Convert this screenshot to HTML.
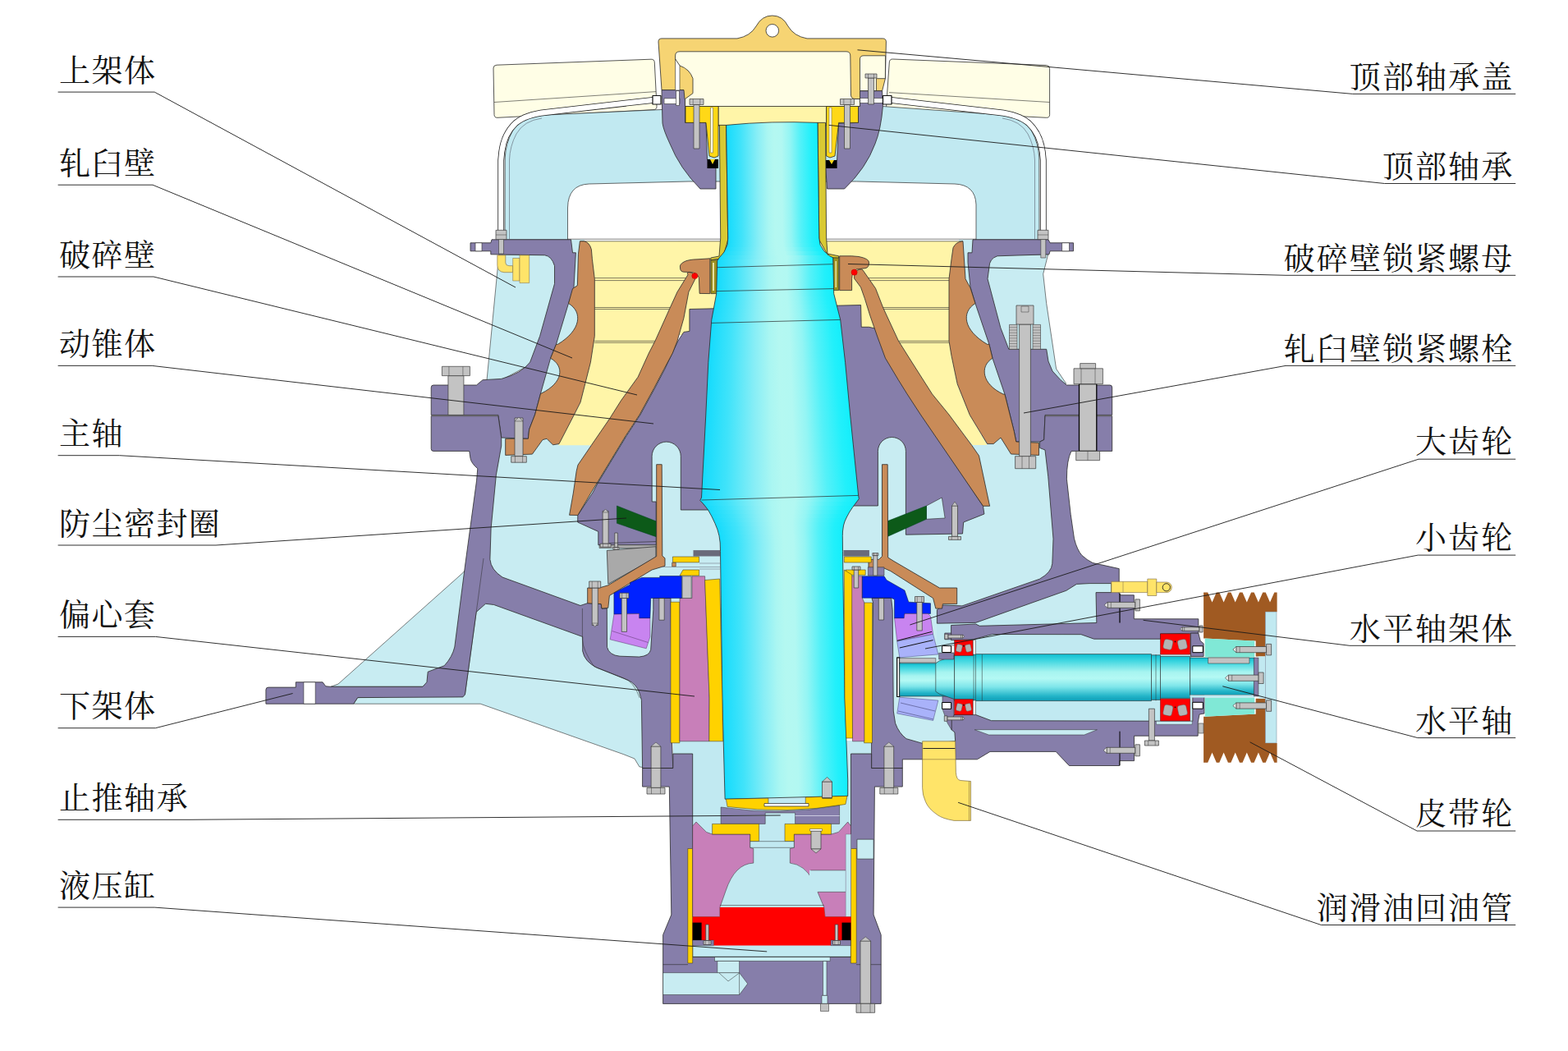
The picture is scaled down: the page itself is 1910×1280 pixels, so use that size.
<!DOCTYPE html><html><head><meta charset="utf-8"><title>cone crusher</title><style>html,body{margin:0;padding:0;background:#fff;font-family:"Liberation Sans",sans-serif}svg{display:block}</style></head><body><svg width="1910" height="1280" viewBox="0 0 1910 1280" stroke-linejoin="round"><defs><linearGradient id="sg" x1="0" x2="1" y1="0" y2="0"><stop offset="0" stop-color="#12dbfd"/><stop offset=".16" stop-color="#40e3fa"/><stop offset=".34" stop-color="#88eef6"/><stop offset=".45" stop-color="#aaf6f2"/><stop offset=".52" stop-color="#b4f8f1"/><stop offset=".6" stop-color="#b2f8f2"/><stop offset=".69" stop-color="#94f5f4"/><stop offset=".8" stop-color="#54f1f8"/><stop offset=".92" stop-color="#22f0fb"/><stop offset="1" stop-color="#12eefc"/></linearGradient><clipPath id="sc"><path d="M884.6,152.4 L886.7,290 L886,298 L882,307 L876,314 L873.7,317.7 L872.7,357.6 L866.8,389.4 L862.8,441.2 L859.8,505 L854.5,606 L852.8,609.5 L857,614 L862.5,621 L867,629 L871,637.5 L874,645 L876,652.5 L877.2,661 L877.5,671.3 L879.8,850 L883.1,973.2 L1032.7,969.4 L1032.7,950 L1029,850 L1026.5,671.3 L1026.3,652.5 L1026.5,647 L1027.5,640 L1029,635 L1031.3,630 L1034.5,624 L1038.8,617.5 L1043,612 L1046.3,607.5 L1045.6,603 L1035.6,505 L1029.6,441.2 L1023.7,389.4 L1015.7,357.6 L1014.7,313.7 L1011,312 L1004,306 L999,298 L997.8,290 L996,149.4 Q940,147 884.6,152.4Z"/></clipPath><linearGradient id="hg" x1="0" x2="0" y1="0" y2="1"><stop offset="0" stop-color="#0fbdd0"/><stop offset=".12" stop-color="#38d4df"/><stop offset=".38" stop-color="#a6f4f0"/><stop offset=".52" stop-color="#b4f9f4"/><stop offset=".7" stop-color="#7fe6ea"/><stop offset=".9" stop-color="#22b4c8"/><stop offset="1" stop-color="#0f9db6"/></linearGradient></defs><path d="M605,79.2 L793,72.2 Q797,72 797.3,76 L800,129.5 Q800.2,133.5 796,133.7 L606,143.3 Q602,143.5 602,139.5 L601,83 Q601,79.4 605,79.2Z" fill="#fffee6" stroke="#2a2a2a" stroke-width="0.8" /><path d="M602,124.5 L799,111.6" fill="none" stroke="#2a2a2a" stroke-width="0.6" /><path d="M1087.5,72 L1274.6,79.5 Q1278.6,79.7 1278.6,83.7 L1278.6,139.5 Q1278.6,143.5 1274.6,143.3 L1083.4,133.7 Q1079.4,133.5 1079.6,129.5 L1083.3,76 Q1083.5,71.8 1087.5,72Z" fill="#fffee6" stroke="#2a2a2a" stroke-width="0.8" /><path d="M1083,112.6 L1278.6,124.5" fill="none" stroke="#2a2a2a" stroke-width="0.6" /><path d="M806,133.5 L652,140.6 Q633,143 624,160 Q616,175 615.2,192 L615,292 L691.5,292 L691.5,253 Q692,225 717.5,224 L839,221 L1043.5,221 L1163,224 Q1188,225 1189,249 L1189,292 L1266,292 L1265.8,192 Q1265,175 1257,160 Q1248,143 1229,140.6 L1075,129.5 L940,125Z" fill="#c1e9f1" stroke="#2a2a2a" stroke-width="0.7" /><path d="M660,144 Q638,147 629,163 Q621,178 620.5,195 L620.5,291" fill="none" stroke="#445" stroke-width="0.5" /><path d="M1221,144 Q1243,147 1252,163 Q1260,178 1260.5,195 L1260.5,291" fill="none" stroke="#445" stroke-width="0.5" /><path d="M796,121.8 L665,136.8 Q640,139.5 628,150 Q614,163 611.2,185 L610.2,195 L610.2,282" fill="none" stroke="#222" stroke-width="7.8" /><path d="M796,121.8 L665,136.8 Q640,139.5 628,150 Q614,163 611.2,185 L610.2,195 L610.2,282" fill="none" stroke="#fff" stroke-width="6.2" /><path d="M1085,121.8 L1216,136.8 Q1241,139.5 1253,150 Q1267,163 1269.8,185 L1270.8,195 L1270.8,282" fill="none" stroke="#222" stroke-width="7.8" /><path d="M1085,121.8 L1216,136.8 Q1241,139.5 1253,150 Q1267,163 1269.8,185 L1270.8,195 L1270.8,282" fill="none" stroke="#fff" stroke-width="6.2" /><path d="M806,109.6 L834.5,109.6 L834.5,149.4 L860,149.4 L861.5,194 L872,205 L872,230 L853,230 Q828,205 816,175 Q808,158 807,150Z" fill="#867eaa" stroke="#2a2a2a" stroke-width="0.8" /><path d="M1074.6,110.6 L1047.5,110.6 L1047.5,129.5 L1045.5,129.5 L1045.5,149.4 L1021.6,150.4 L1019.6,195 L1005.7,205 L1007.6,230 L1028.6,230 Q1055,205 1066,175 Q1073,158 1075.4,129.5Z" fill="#867eaa" stroke="#2a2a2a" stroke-width="0.8" /><rect x="809" y="119.8" width="19" height="6.7" fill="#fff" stroke="#2a2a2a" stroke-width="0.6"/><rect x="823.5" y="110.6" width="4" height="17.9" fill="#fff" stroke="#2a2a2a" stroke-width="0.6"/><rect x="1047.5" y="119.5" width="27.9" height="6" fill="#fff" stroke="#2a2a2a" stroke-width="0.6"/><path d="M806,109.6 L802,51 Q802,46.9 806,46.9 L898,46.9 Q914,44 921,32 Q928,19 940.7,19 Q953.5,19 960,32 Q967,44 983,46.9 L1075.4,46.9 Q1079.4,46.9 1079.4,51 L1078.4,95.7 L1074.6,110.6 L1047.5,110.6 L1047.5,120.5 L1036.5,120.5 L834,120.5 L833,109.6Z" fill="#f6d473" stroke="#2a2a2a" stroke-width="0.8" /><circle cx="940.8" cy="37.3" r="7.8" fill="#fff" stroke="#2a2a2a" stroke-width="0.8"/><path d="M828,62.8 L1031,62.8 Q1035.8,62.8 1035.8,68 L1036.5,116 Q1037,120.5 1042,120.5 L1047.5,120.5 L1047.5,129.5 L834.5,129.5 L834.5,120.5 L844,113.6 L844,95.6 Q840,84 828,80 L822.6,72 L822.6,68 Q822.6,62.8 828,62.8Z" fill="#fffee6" stroke="#2a2a2a" stroke-width="0.8" /><path d="M822.6,72 L828,80 L828,110 L822.6,110Z" fill="#fff" stroke="#2a2a2a" stroke-width="0.6" /><path d="M1052,67.8 L1078.6,67.8 L1078.4,95.7 L1067.4,95.7 L1067.4,110.6 L1047.5,110.6 L1047.5,72 Q1047.5,67.8 1052,67.8Z" fill="#fffee6" stroke="#2a2a2a" stroke-width="0.8" /><rect x="875" y="129.5" width="131.6" height="23.5" fill="#fff5a8" stroke="#2a2a2a" stroke-width="0.7"/><path d="M835,129.5 L875,129.5 L875,190 L870,192 L864,190 L860,149.4 L835,149.4Z" fill="#ffd817" stroke="#2a2a2a" stroke-width="0.8" /><path d="M1045.5,129.5 L1006.6,129.5 L1006.6,190 L1011,192 L1017,190 L1021.6,149.4 L1045.5,149.4Z" fill="#ffd817" stroke="#2a2a2a" stroke-width="0.8" /><rect x="865.5" y="131" width="3" height="55" fill="#fffbe0" stroke="#555" stroke-width="0.5"/><rect x="1010" y="131" width="3" height="55" fill="#fffbe0" stroke="#555" stroke-width="0.5"/><rect x="861.5" y="194" width="13.5" height="11" fill="#000" stroke="#000" stroke-width="0"/><rect x="1005.7" y="195" width="13.9" height="10" fill="#000" stroke="#000" stroke-width="0"/><path d="M865,194 L868,200 L871,194Z" fill="#ffd817" stroke="none" stroke-width="0" /><path d="M1010,195 L1013,200 L1016,195Z" fill="#ffd817" stroke="none" stroke-width="0" /><rect x="845" y="127.5" width="7" height="53.5" fill="#c3c3c3" stroke="#3a3a3a" stroke-width="0.7"/><rect x="840" y="120.5" width="17" height="7" fill="#c3c3c3" stroke="#3a3a3a" stroke-width="0.7"/><path d="M844.2,120.5 L844.2,127.5" fill="none" stroke="#3a3a3a" stroke-width="0.5" /><path d="M852.8,120.5 L852.8,127.5" fill="none" stroke="#3a3a3a" stroke-width="0.5" /><rect x="1028.5" y="127.5" width="7" height="53.5" fill="#c3c3c3" stroke="#3a3a3a" stroke-width="0.7"/><rect x="1023.5" y="120.5" width="17" height="7" fill="#c3c3c3" stroke="#3a3a3a" stroke-width="0.7"/><path d="M1027.8,120.5 L1027.8,127.5" fill="none" stroke="#3a3a3a" stroke-width="0.5" /><path d="M1036.2,120.5 L1036.2,127.5" fill="none" stroke="#3a3a3a" stroke-width="0.5" /><rect x="1057.5" y="95" width="7" height="32" fill="#c3c3c3" stroke="#3a3a3a" stroke-width="0.7"/><rect x="1054" y="90" width="14" height="5" fill="#c3c3c3" stroke="#3a3a3a" stroke-width="0.7"/><path d="M1057.5,90 L1057.5,95" fill="none" stroke="#3a3a3a" stroke-width="0.5" /><path d="M1064.5,90 L1064.5,95" fill="none" stroke="#3a3a3a" stroke-width="0.5" /><rect x="795" y="116.5" width="10" height="10.5" fill="#fff" stroke="#111" stroke-width="1.2"/><rect x="1075.5" y="116.5" width="10.5" height="10.5" fill="#fff" stroke="#111" stroke-width="1.2"/><path d="M606,527 L600,578.3 L592,643.6 L588,690 L606,712 L706,748 L712,810 L1180,810 L1174,748 L1266,714 L1290,700 L1292,656 L1285,580.8 L1280,548 L1275,540 L1262,530Z" fill="#c8ecf2" stroke="none" stroke-width="0" /><path d="M403,836.3 L412,833 L563.9,697.6 L572,688 L565,836.3Z" fill="#c8ecf2" stroke="#2a2a2a" stroke-width="0.6" /><path d="M430.7,857.2 L435.7,849.6 L566.4,845.9 L580.2,745.3 L591.5,732 L712,771 L790,850 L790,936 L778.8,933.8 L773,924 L759.9,918.8 L585.2,857.2Z" fill="#c8ecf2" stroke="#2a2a2a" stroke-width="0.6" /><path d="M1186,757 L1296,715 L1310,707 L1327,706 L1356,706 L1356,724 L1338,724 L1338,761Z" fill="#c8ecf2" stroke="none" stroke-width="0" /><rect x="1141" y="755" width="311" height="128" fill="#c1e9f1" stroke="none" stroke-width="0"/><path d="M1086,800 L1165,800 L1165,909 L1086,909Z" fill="#c8ecf2" stroke="none" stroke-width="0" /><rect x="819.8" y="902" width="241.8" height="98" fill="#c1e9f1" stroke="none" stroke-width="0"/><rect x="843.7" y="1000" width="192.8" height="172" fill="#c1e9f1" stroke="none" stroke-width="0"/><path d="M607.8,310 L678,310 L678,348 L648,443 L612,462 L592.5,468Z" fill="#c8ecf2" stroke="#2a2a2a" stroke-width="0.6" /><path d="M1196,311 L1276.7,309.8 L1270.7,333.7 L1274.7,369.5 L1286.6,449.2 L1298.6,467 L1296,470 L1215,428Z" fill="#c8ecf2" stroke="#2a2a2a" stroke-width="0.6" /><path d="M694,291.8 L712,291.8 L712,400 L700,440 L688,480 L660,524 L645,524Z" fill="#c8ecf2" stroke="none" stroke-width="0" /><path d="M1186,291.8 L1168,291.8 L1168,400 L1180,440 L1192,480 L1222,526 L1237,526Z" fill="#c8ecf2" stroke="none" stroke-width="0" /><path d="M573,295.8 L597.8,295.8 L599,291.8 L695.5,291.8 L697.5,307.8 L701.4,307.8 L699,349.6 L692.5,369.5 L677.5,419.3 L670.6,436.3 L658.6,479 L651.6,505 L644.6,523 L643.4,534.3 L610.7,533 L606.9,505.4 L525.2,505.4 L525.2,472 Q525.2,469 528,469 L580.5,469 L588,462.7 L610.7,461.4 Q635,455 645.7,441 L657.6,409.4 L675.5,345.6 L675.5,323.7 Q672,312 663.6,310.8 L597.8,309.8 L597.8,305.8 L573,305.8Z" fill="#867eaa" stroke="#2a2a2a" stroke-width="0.8" /><rect x="579" y="295.8" width="8" height="10" fill="#fff" stroke="#2a2a2a" stroke-width="0.6"/><path d="M1185,291.8 L1277,291.8 L1279,295.8 L1307.5,295.8 L1307.5,305.8 L1279,305.8 L1278,309.8 L1214.9,311.8 Q1205,315 1204.9,325.7 L1203,339.6 L1218.9,399.4 L1228.8,425.3 L1274.7,425.3 L1277,440 L1282,452 L1291.9,462.7 L1299.4,469 L1352,469 Q1354.7,469 1354.7,472 L1354.7,505.4 L1273,505.4 L1271.7,535.6 L1266.7,538 L1237.8,538 L1235.3,525.5 L1224,480.3 L1209,436.3 L1204.9,419.3 L1188,369.5 L1182,349.6 L1179,319.7 L1179,307.8 L1184,307.8Z" fill="#867eaa" stroke="#2a2a2a" stroke-width="0.8" /><rect x="1293.6" y="295.8" width="8.9" height="10" fill="#fff" stroke="#2a2a2a" stroke-width="0.6"/><rect x="826" y="293.8" width="236" height="114.2" fill="#fff5a8" stroke="none" stroke-width="0"/><path d="M706,293.8 L1173,293.8 L1156,415 L1166,468 L1181,505 L1202.5,541.9 L1184.5,541.9 L1150,500 L1060,400 L1048,372 L1030,372 L1030,330 L852,330 L852,376 L840,376 L824,382 L812,415 L793,454 L765,505 L742,536 L720,542.3 L679.7,542.3 L706,493 L719,441 L724.3,409Z" fill="#fff5a8" stroke="none" stroke-width="0" /><path d="M691.5,291.2 L877,291.2" fill="none" stroke="#2a2a2a" stroke-width="0.6" /><path d="M1007,291.2 L1189,291.2" fill="none" stroke="#2a2a2a" stroke-width="0.6" /><path d="M707,293.8 L877,293.8" fill="none" stroke="#2a2a2a" stroke-width="0.6" /><path d="M1007,293.8 L1173,293.8" fill="none" stroke="#2a2a2a" stroke-width="0.6" /><path d="M724.3,338.6 L835,338.6" fill="none" stroke="#2a2a2a" stroke-width="0.6" /><path d="M1055,338.6 L1156,338.6" fill="none" stroke="#2a2a2a" stroke-width="0.6" /><path d="M724.3,341.6 L834,341.6" fill="none" stroke="#2a2a2a" stroke-width="0.6" /><path d="M1057,341.6 L1156,341.6" fill="none" stroke="#2a2a2a" stroke-width="0.6" /><path d="M724.3,374.5 L816,374.5" fill="none" stroke="#2a2a2a" stroke-width="0.6" /><path d="M1075.5,374.5 L1156,374.5" fill="none" stroke="#2a2a2a" stroke-width="0.6" /><path d="M724.3,376.5 L815,376.5" fill="none" stroke="#2a2a2a" stroke-width="0.6" /><path d="M1076.5,376.5 L1156,376.5" fill="none" stroke="#2a2a2a" stroke-width="0.6" /><path d="M724.3,415.3 L798.5,415.3" fill="none" stroke="#2a2a2a" stroke-width="0.6" /><path d="M1094.5,415.3 L1156,415.3" fill="none" stroke="#2a2a2a" stroke-width="0.6" /><path d="M724.3,417.3 L797.5,417.3" fill="none" stroke="#2a2a2a" stroke-width="0.6" /><path d="M1095.7,417.3 L1156,417.3" fill="none" stroke="#2a2a2a" stroke-width="0.6" /><path d="M706.4,293.8 L704.4,309.8 L703.4,347.6 L697.5,351.6 L692.5,369.5 C710,380 708,402 679.5,419.3 L677.5,419.3 L670.6,436.3 C688,446 686,466 659.6,479 L658.6,479 L651.6,505 L644.6,523 L643.4,534.3 L615.7,534.3 L615.7,554.4 L648.4,553.1 L661,535.6 L666,534.3 L673.5,541.8 L681,540.6 L699.4,505 L707,490 L719.4,441.2 L724.3,409.4 L724.3,339.6 L721.4,315.7 L720.4,303.8 Q718,295 711.4,293.8Z" fill="#c98b58" stroke="#2a2a2a" stroke-width="0.8" /><path d="M1173,293.8 L1176,339.6 L1182,350.6 L1188,369.5 C1171,380 1173,402 1202.5,419.3 L1204.9,419.3 L1209,436.3 C1193,446 1196,468 1222,480 L1224,480.3 L1235.3,525.5 L1237.8,538 L1265.5,539.3 L1265.5,554.4 L1231.5,553 L1219,533 L1210.2,540.6 L1202.6,540.6 L1181.3,505.4 L1166.2,467.7 L1159,433.3 L1156,415.3 L1156,339.6 L1159,315.7 L1161,301.8 Q1164,295 1172,293.8Z" fill="#c98b58" stroke="#2a2a2a" stroke-width="0.8" /><path d="M839.9,376.5 L1048.6,371.5 L1049.2,398.3 L1058.5,398.3 L1066,400 L1080.4,436.1 L1096.3,462.7 L1107,479.9 L1123.4,505 L1197.5,616.3 L1198.9,626 L1173.7,636 L1172.5,650 L1103.4,651.2 L1103.4,549.5 A17,17 0 0 0 1069.4,549.5 L1069.4,616 L1040,616 L860,621 L829.3,621 L829.3,555.7 A17.6,17.6 0 0 0 794.1,555.7 L794.2,611 L799.2,611 L799.2,663.7 L728.8,663.7 L728.8,647.4 L703.7,636 L703.8,627.5 L722,600 L728.5,587.8 L763.3,530.5 L780,505 L798,472 L810,449 L826,415 L832.9,404.4 L839.9,403.4Z" fill="#867eaa" stroke="#2a2a2a" stroke-width="0.8" /><path d="M1128.5,616 L1147.3,606 L1151.1,631 L1128.5,632.3Z" fill="#c8ecf2" stroke="#2a2a2a" stroke-width="0.6" /><path d="M840,331.5 Q836,331.5 837.9,334.7 L825,355.6 L815,377.5 L798,415.3 L790.4,430 L777.1,459.2 L756.5,487.8 L742.5,510 L720,542.8 L704,566.2 L702.2,573.7 L698.4,600 L693.6,627.3 L703.8,627.5 L720,600 L727.5,587.8 L762.3,530.5 L779.1,505 L796.7,472.7 L809,449.2 L819.3,430 L825,415.3 L832.9,387.5 L838.9,355.6 L846.9,339.6 Q846,332 840,331.5Z" fill="#c98b58" stroke="#2a2a2a" stroke-width="0.8" /><path d="M1046.6,328.2 Q1050,327 1051.2,329.2 L1066.5,351.2 L1075.8,375 L1094.3,414.9 L1107.6,436.1 L1135.5,479.9 L1156,505 L1183.8,542.5 L1192.5,555 L1205.6,616.3 L1197.5,616.3 L1121.4,505 L1105,479.9 L1094.3,462.7 L1078.4,436.1 L1069.1,410.9 L1059.8,384.3 L1053.2,363.1 L1048.5,349.8 L1040.6,339.2 Q1040,330 1046.6,328.2Z" fill="#c98b58" stroke="#2a2a2a" stroke-width="0.8" /><path d="M864.8,314.8 L850,315.8 Q838,316 833,319 Q827.5,322 828.5,326 Q828.5,331 833,331.2 L841,331.5 Q849,332 851.4,338.1 L852.1,357.4 L864.8,357.6Z" fill="#c98b58" stroke="#2a2a2a" stroke-width="0.8" /><path d="M1022.7,311.8 L1037.6,311.8 L1046,312.5 Q1059,315 1058.5,320 Q1058.5,326 1054,326.7 L1043,328 Q1038,331 1037.6,339.6 L1037.6,353.6 L1022.7,353.6Z" fill="#c98b58" stroke="#2a2a2a" stroke-width="0.8" /><circle cx="846.3" cy="336" r="3.6" fill="#ff0000" stroke="#a00" stroke-width="0.4"/><circle cx="1040.6" cy="331.7" r="3.6" fill="#ff0000" stroke="#a00" stroke-width="0.4"/><rect x="865.8" y="316.7" width="8.9" height="40.9" fill="#9b9020" stroke="#2a2a2a" stroke-width="0.7"/><rect x="1014.7" y="313" width="7" height="40.6" fill="#9b9020" stroke="#2a2a2a" stroke-width="0.7"/><rect x="868" y="320" width="2" height="34" fill="#e8e2a0" stroke="none" stroke-width="0"/><rect x="1017.5" y="318" width="1.5" height="32" fill="#e8e2a0" stroke="none" stroke-width="0"/><path d="M875,152.4 L884.6,152.4 L886.7,292 L880.5,314.5 L865.8,316.7 L865.8,314 L876,312 L877.7,290 L876.4,153Z" fill="#d9c933" stroke="#2a2a2a" stroke-width="0.8" /><path d="M996,149.4 L1005.5,149.4 L1006.6,290 L1008,309 L1021.7,311.8 L1021.7,314 L1010,313.7 L997.8,292Z" fill="#d9c933" stroke="#2a2a2a" stroke-width="0.8" /><path d="M606.9,506.7 L610.7,533 L610.7,543 L604.4,578.3 L598.1,643.6 L596.9,681.3 Q598,694 612,703 L707,737.5 L716,734.5 L732.2,735.6 L733,741.1 L739.3,741 L739.5,788.2 Q742,798 755,799.2 L778.5,800 Q791,799 792.7,791.3 L795.8,742.7 L795.8,728.5 L817,728.5 L818.5,904.8 L819.8,935.5 L782.6,935.5 L781.4,852.6 L778.8,843.4 Q775,833 764.9,828.3 L727.2,813.2 Q712,806 709.7,793 L709.7,775.5 L601.6,736.5 L591.5,735.3 L580.2,745.3 L566.4,845.9 L563.9,848.9 L435.7,849.6 L430.7,857.2 L323.9,857.2 L323.9,840 Q323.9,837.1 327,837.1 L360.3,837.1 L360.3,830.8 L393,830.8 L396.8,835.8 L403,836.3 L514.9,836.3 L519.9,830.8 L521.2,818.2 L541.3,810.7 Q551,800 553.8,788 L566.4,690 L580.5,585.8 L581.8,570.7 Q574,564 573,558.2 L571.7,549.4 L528,549.4 Q525.2,549.4 525.2,546.5 L525.2,506.7Z" fill="#867eaa" stroke="#2a2a2a" stroke-width="0.8" /><rect x="369.9" y="830.8" width="14.3" height="26.4" fill="#fff" stroke="#2a2a2a" stroke-width="0.6"/><path d="M589,680 L580.2,745.3" fill="none" stroke="#2a2a2a" stroke-width="0.5" /><path d="M709.4,741 L709.4,778.8 Q710,792 723.6,811.8 L759.7,825.9 Q772,830 779.3,850" fill="none" stroke="#2a2a2a" stroke-width="0.5" /><path d="M1273,506.7 L1354.7,506.7 L1354.7,549.4 L1305,549.4 Q1299.4,560 1299.4,583.3 L1304.2,626.4 L1308.5,655.9 Q1312,670 1318,676.5 Q1324,682 1331,685.5 L1363.2,692.6 L1363.2,722.4 L1364.8,724.8 L1381.3,724.8 L1381.3,753.8 L1459.8,753.8 L1459.8,771.1 L1413.5,771.9 L1413.5,778.2 L1332.6,778.2 L1316.9,772.7 L1208.9,772.5 L1185.3,778.8 L1158.6,779.6 L1158.6,761.5 L1188.5,760 L1193.2,762.3 L1335.8,758.5 L1335,721.6 L1353.8,721.6 L1353.8,710.6 L1327.1,710.6 L1311.4,711.4 L1298.8,719.3 L1188.5,758.4 L1141.4,759.2 L1141.4,742.7 L1148.8,737 L1172,737.9 L1266.3,705.2 Q1281,697 1281.8,686.3 L1283,656.2 L1276.8,580.8 L1273,548 L1266.7,545.6 L1266.7,538 L1271.7,535.6Z" fill="#867eaa" stroke="#2a2a2a" stroke-width="0.8" /><path d="M1364,722.4 L1364,758.5" fill="none" stroke="#000" stroke-width="1.2" /><path d="M1450.4,771.1 L1459.8,771.1 L1462.2,780.5 L1466.1,783.7 L1466.1,799.4 L1450.4,799.4Z" fill="#867eaa" stroke="#2a2a2a" stroke-width="0.8" /><rect x="1150.8" y="771" width="7.8" height="7.8" fill="#867eaa" stroke="#2a2a2a" stroke-width="0.6"/><path d="M1062,728.5 L1085.6,728.5 L1087.2,742.7 L1088.3,866 L1090.6,880.8 Q1095,893 1104,899.7 L1126,906 L1163.7,902.8 L1162.9,891.8 L1159,888.7 L1159,877.7 L1162,870.6 L1188.8,870.6 L1207.6,877.7 L1452.8,878.3 L1452.8,846.7 L1467,846.7 L1467,869 L1461,870 L1459.2,880 L1459.2,896.2 L1381.5,896.2 L1381.5,926.6 L1363.6,926.6 L1363.6,932.5 L1302.4,932.5 L1286.2,915.4 L1206,915.4 L1190.4,924.8 L1099.3,924.8 L1099.3,935.5 L1061.6,935.5 L1061.6,904.8 L1063.6,734Z" fill="#867eaa" stroke="#2a2a2a" stroke-width="0.8" /><path d="M1187.2,888.7 L1336.4,888.7 L1320.7,895 L1204.5,895Z" fill="#c8ecf2" stroke="#2a2a2a" stroke-width="0.5" /><path d="M1148,846.3 L1162,846.3 L1162,871 L1159,877.7 L1159,888.7 L1154.2,880.8 L1148,863.6Z" fill="#867eaa" stroke="#2a2a2a" stroke-width="0.5" /><rect x="1408.4" y="878.3" width="43.8" height="4" fill="#c8ecf2" stroke="#2a2a2a" stroke-width="0.4"/><path d="M1364,890.7 L1364,932.3" fill="none" stroke="#000" stroke-width="1.0" /><g clip-path="url(#sc)"><rect x="883.6" y="146" width="113.4" height="5.6" fill="url(#sg)"/><rect x="883.6" y="151" width="113.4" height="5.6" fill="url(#sg)"/><rect x="883.7" y="156" width="113.4" height="5.6" fill="url(#sg)"/><rect x="883.8" y="161" width="113.4" height="5.6" fill="url(#sg)"/><rect x="883.8" y="166" width="113.4" height="5.6" fill="url(#sg)"/><rect x="883.9" y="171" width="113.4" height="5.6" fill="url(#sg)"/><rect x="884" y="176" width="113.4" height="5.6" fill="url(#sg)"/><rect x="884.1" y="181" width="113.4" height="5.6" fill="url(#sg)"/><rect x="884.2" y="186" width="113.3" height="5.6" fill="url(#sg)"/><rect x="884.2" y="191" width="113.3" height="5.6" fill="url(#sg)"/><rect x="884.3" y="196" width="113.3" height="5.6" fill="url(#sg)"/><rect x="884.4" y="201" width="113.3" height="5.6" fill="url(#sg)"/><rect x="884.5" y="206" width="113.3" height="5.6" fill="url(#sg)"/><rect x="884.5" y="211" width="113.3" height="5.6" fill="url(#sg)"/><rect x="884.6" y="216" width="113.3" height="5.6" fill="url(#sg)"/><rect x="884.7" y="221" width="113.3" height="5.6" fill="url(#sg)"/><rect x="884.8" y="226" width="113.3" height="5.6" fill="url(#sg)"/><rect x="884.8" y="231" width="113.2" height="5.6" fill="url(#sg)"/><rect x="884.9" y="236" width="113.2" height="5.6" fill="url(#sg)"/><rect x="885" y="241" width="113.2" height="5.6" fill="url(#sg)"/><rect x="885.1" y="246" width="113.2" height="5.6" fill="url(#sg)"/><rect x="885.1" y="251" width="113.2" height="5.6" fill="url(#sg)"/><rect x="885.2" y="256" width="113.2" height="5.6" fill="url(#sg)"/><rect x="885.3" y="261" width="113.2" height="5.6" fill="url(#sg)"/><rect x="885.4" y="266" width="113.2" height="5.6" fill="url(#sg)"/><rect x="885.4" y="271" width="113.1" height="5.6" fill="url(#sg)"/><rect x="885.5" y="276" width="113.1" height="5.6" fill="url(#sg)"/><rect x="885.6" y="281" width="113.1" height="5.6" fill="url(#sg)"/><rect x="885.7" y="286" width="113.1" height="5.6" fill="url(#sg)"/><rect x="885.4" y="291" width="113.9" height="5.6" fill="url(#sg)"/><rect x="884.8" y="296" width="115.5" height="5.6" fill="url(#sg)"/><rect x="882.6" y="301" width="120.9" height="5.6" fill="url(#sg)"/><rect x="879.7" y="306" width="128.2" height="5.6" fill="url(#sg)"/><rect x="875.4" y="311" width="139.8" height="5.6" fill="url(#sg)"/><rect x="872.7" y="316" width="143.1" height="5.6" fill="url(#sg)"/><rect x="872.6" y="321" width="143.4" height="5.6" fill="url(#sg)"/><rect x="872.4" y="326" width="143.6" height="5.6" fill="url(#sg)"/><rect x="872.3" y="331" width="143.8" height="5.6" fill="url(#sg)"/><rect x="872.2" y="336" width="144.1" height="5.6" fill="url(#sg)"/><rect x="872.1" y="341" width="144.3" height="5.6" fill="url(#sg)"/><rect x="871.9" y="346" width="144.6" height="5.6" fill="url(#sg)"/><rect x="871.8" y="351" width="144.8" height="5.6" fill="url(#sg)"/><rect x="871.5" y="356" width="145.4" height="5.6" fill="url(#sg)"/><rect x="870.6" y="361" width="147.6" height="5.6" fill="url(#sg)"/><rect x="869.7" y="366" width="149.8" height="5.6" fill="url(#sg)"/><rect x="868.8" y="371" width="152" height="5.6" fill="url(#sg)"/><rect x="867.8" y="376" width="154.1" height="5.6" fill="url(#sg)"/><rect x="866.9" y="381" width="156.3" height="5.6" fill="url(#sg)"/><rect x="866" y="386" width="158.5" height="5.6" fill="url(#sg)"/><rect x="865.5" y="391" width="159.7" height="5.6" fill="url(#sg)"/><rect x="865.1" y="396" width="160.6" height="5.6" fill="url(#sg)"/><rect x="864.7" y="401" width="161.6" height="5.6" fill="url(#sg)"/><rect x="864.3" y="406" width="162.6" height="5.6" fill="url(#sg)"/><rect x="863.9" y="411" width="163.5" height="5.6" fill="url(#sg)"/><rect x="863.6" y="416" width="164.5" height="5.6" fill="url(#sg)"/><rect x="863.2" y="421" width="165.4" height="5.6" fill="url(#sg)"/><rect x="862.8" y="426" width="166.4" height="5.6" fill="url(#sg)"/><rect x="862.4" y="431" width="167.3" height="5.6" fill="url(#sg)"/><rect x="862" y="436" width="168.3" height="5.6" fill="url(#sg)"/><rect x="861.7" y="441" width="169.1" height="5.6" fill="url(#sg)"/><rect x="861.5" y="446" width="169.8" height="5.6" fill="url(#sg)"/><rect x="861.2" y="451" width="170.5" height="5.6" fill="url(#sg)"/><rect x="861" y="456" width="171.2" height="5.6" fill="url(#sg)"/><rect x="860.8" y="461" width="171.9" height="5.6" fill="url(#sg)"/><rect x="860.5" y="466" width="172.7" height="5.6" fill="url(#sg)"/><rect x="860.3" y="471" width="173.4" height="5.6" fill="url(#sg)"/><rect x="860" y="476" width="174.1" height="5.6" fill="url(#sg)"/><rect x="859.8" y="481" width="174.8" height="5.6" fill="url(#sg)"/><rect x="859.6" y="486" width="175.5" height="5.6" fill="url(#sg)"/><rect x="859.3" y="491" width="176.2" height="5.6" fill="url(#sg)"/><rect x="859.1" y="496" width="176.9" height="5.6" fill="url(#sg)"/><rect x="858.9" y="501" width="177.6" height="5.6" fill="url(#sg)"/><rect x="858.6" y="506" width="178.3" height="5.6" fill="url(#sg)"/><rect x="858.4" y="511" width="179.1" height="5.6" fill="url(#sg)"/><rect x="858.1" y="516" width="179.9" height="5.6" fill="url(#sg)"/><rect x="857.8" y="521" width="180.7" height="5.6" fill="url(#sg)"/><rect x="857.6" y="526" width="181.4" height="5.6" fill="url(#sg)"/><rect x="857.3" y="531" width="182.2" height="5.6" fill="url(#sg)"/><rect x="857" y="536" width="183" height="5.6" fill="url(#sg)"/><rect x="856.8" y="541" width="183.7" height="5.6" fill="url(#sg)"/><rect x="856.5" y="546" width="184.5" height="5.6" fill="url(#sg)"/><rect x="856.3" y="551" width="185.3" height="5.6" fill="url(#sg)"/><rect x="856" y="556" width="186.1" height="5.6" fill="url(#sg)"/><rect x="855.7" y="561" width="186.8" height="5.6" fill="url(#sg)"/><rect x="855.5" y="566" width="187.6" height="5.6" fill="url(#sg)"/><rect x="855.2" y="571" width="188.4" height="5.6" fill="url(#sg)"/><rect x="854.9" y="576" width="189.2" height="5.6" fill="url(#sg)"/><rect x="854.7" y="581" width="189.9" height="5.6" fill="url(#sg)"/><rect x="854.4" y="586" width="190.7" height="5.6" fill="url(#sg)"/><rect x="854.2" y="591" width="191.5" height="5.6" fill="url(#sg)"/><rect x="853.9" y="596" width="192.2" height="5.6" fill="url(#sg)"/><rect x="853.6" y="601" width="193" height="5.6" fill="url(#sg)"/><rect x="852.3" y="606" width="194.3" height="5.6" fill="url(#sg)"/><rect x="855.5" y="611" width="187.3" height="5.6" fill="url(#sg)"/><rect x="859.5" y="616" width="179.6" height="5.6" fill="url(#sg)"/><rect x="862.9" y="621" width="172.9" height="5.6" fill="url(#sg)"/><rect x="865.7" y="626" width="167.4" height="5.6" fill="url(#sg)"/><rect x="868.1" y="631" width="162.6" height="5.6" fill="url(#sg)"/><rect x="870.4" y="636" width="158.6" height="5.6" fill="url(#sg)"/><rect x="872.4" y="641" width="155.6" height="5.6" fill="url(#sg)"/><rect x="873.9" y="646" width="153.5" height="5.6" fill="url(#sg)"/><rect x="875.1" y="651" width="152.2" height="5.6" fill="url(#sg)"/><rect x="875.8" y="656" width="151.5" height="5.6" fill="url(#sg)"/><rect x="876.3" y="661" width="151.1" height="5.6" fill="url(#sg)"/><rect x="876.4" y="666" width="151.1" height="5.6" fill="url(#sg)"/><rect x="876.5" y="671" width="151" height="5.6" fill="url(#sg)"/><rect x="876.6" y="676" width="151" height="5.6" fill="url(#sg)"/><rect x="876.7" y="681" width="151" height="5.6" fill="url(#sg)"/><rect x="876.7" y="686" width="151" height="5.6" fill="url(#sg)"/><rect x="876.8" y="691" width="151" height="5.6" fill="url(#sg)"/><rect x="876.9" y="696" width="151" height="5.6" fill="url(#sg)"/><rect x="876.9" y="701" width="151" height="5.6" fill="url(#sg)"/><rect x="877" y="706" width="151" height="5.6" fill="url(#sg)"/><rect x="877" y="711" width="151" height="5.6" fill="url(#sg)"/><rect x="877.1" y="716" width="151.1" height="5.6" fill="url(#sg)"/><rect x="877.2" y="721" width="151.1" height="5.6" fill="url(#sg)"/><rect x="877.2" y="726" width="151.1" height="5.6" fill="url(#sg)"/><rect x="877.3" y="731" width="151.1" height="5.6" fill="url(#sg)"/><rect x="877.4" y="736" width="151.1" height="5.6" fill="url(#sg)"/><rect x="877.4" y="741" width="151.1" height="5.6" fill="url(#sg)"/><rect x="877.5" y="746" width="151.1" height="5.6" fill="url(#sg)"/><rect x="877.6" y="751" width="151.1" height="5.6" fill="url(#sg)"/><rect x="877.6" y="756" width="151.1" height="5.6" fill="url(#sg)"/><rect x="877.7" y="761" width="151.1" height="5.6" fill="url(#sg)"/><rect x="877.8" y="766" width="151.1" height="5.6" fill="url(#sg)"/><rect x="877.8" y="771" width="151.1" height="5.6" fill="url(#sg)"/><rect x="877.9" y="776" width="151.1" height="5.6" fill="url(#sg)"/><rect x="877.9" y="781" width="151.1" height="5.6" fill="url(#sg)"/><rect x="878" y="786" width="151.1" height="5.6" fill="url(#sg)"/><rect x="878.1" y="791" width="151.1" height="5.6" fill="url(#sg)"/><rect x="878.1" y="796" width="151.1" height="5.6" fill="url(#sg)"/><rect x="878.2" y="801" width="151.1" height="5.6" fill="url(#sg)"/><rect x="878.3" y="806" width="151.2" height="5.6" fill="url(#sg)"/><rect x="878.3" y="811" width="151.2" height="5.6" fill="url(#sg)"/><rect x="878.4" y="816" width="151.2" height="5.6" fill="url(#sg)"/><rect x="878.5" y="821" width="151.2" height="5.6" fill="url(#sg)"/><rect x="878.5" y="826" width="151.2" height="5.6" fill="url(#sg)"/><rect x="878.6" y="831" width="151.2" height="5.6" fill="url(#sg)"/><rect x="878.7" y="836" width="151.2" height="5.6" fill="url(#sg)"/><rect x="878.7" y="841" width="151.2" height="5.6" fill="url(#sg)"/><rect x="878.8" y="846" width="151.2" height="5.6" fill="url(#sg)"/><rect x="878.9" y="851" width="151.2" height="5.6" fill="url(#sg)"/><rect x="879" y="856" width="151.3" height="5.6" fill="url(#sg)"/><rect x="879.2" y="861" width="151.3" height="5.6" fill="url(#sg)"/><rect x="879.3" y="866" width="151.4" height="5.6" fill="url(#sg)"/><rect x="879.4" y="871" width="151.4" height="5.6" fill="url(#sg)"/><rect x="879.6" y="876" width="151.5" height="5.6" fill="url(#sg)"/><rect x="879.7" y="881" width="151.5" height="5.6" fill="url(#sg)"/><rect x="879.8" y="886" width="151.6" height="5.6" fill="url(#sg)"/><rect x="880" y="891" width="151.6" height="5.6" fill="url(#sg)"/><rect x="880.1" y="896" width="151.7" height="5.6" fill="url(#sg)"/><rect x="880.2" y="901" width="151.7" height="5.6" fill="url(#sg)"/><rect x="880.4" y="906" width="151.8" height="5.6" fill="url(#sg)"/><rect x="880.5" y="911" width="151.8" height="5.6" fill="url(#sg)"/><rect x="880.6" y="916" width="151.9" height="5.6" fill="url(#sg)"/><rect x="880.8" y="921" width="152" height="5.6" fill="url(#sg)"/><rect x="880.9" y="926" width="152" height="5.6" fill="url(#sg)"/><rect x="881" y="931" width="152.1" height="5.6" fill="url(#sg)"/><rect x="881.2" y="936" width="152.1" height="5.6" fill="url(#sg)"/><rect x="881.3" y="941" width="152.2" height="5.6" fill="url(#sg)"/><rect x="881.4" y="946" width="152.2" height="5.6" fill="url(#sg)"/><rect x="881.6" y="951" width="152.1" height="5.6" fill="url(#sg)"/><rect x="881.7" y="956" width="152" height="5.6" fill="url(#sg)"/><rect x="881.8" y="961" width="151.9" height="5.6" fill="url(#sg)"/><rect x="882" y="966" width="151.7" height="5.6" fill="url(#sg)"/><rect x="882.1" y="971" width="151.6" height="5.6" fill="url(#sg)"/></g><path d="M884.6,152.4 L886.7,290 L886,298 L882,307 L876,314 L873.7,317.7 L872.7,357.6 L866.8,389.4 L862.8,441.2 L859.8,505 L854.5,606 L852.8,609.5 L857,614 L862.5,621 L867,629 L871,637.5 L874,645 L876,652.5 L877.2,661 L877.5,671.3 L879.8,850 L883.1,973.2 L1032.7,969.4 L1032.7,950 L1029,850 L1026.5,671.3 L1026.3,652.5 L1026.5,647 L1027.5,640 L1029,635 L1031.3,630 L1034.5,624 L1038.8,617.5 L1043,612 L1046.3,607.5 L1045.6,603 L1035.6,505 L1029.6,441.2 L1023.7,389.4 L1015.7,357.6 L1014.7,313.7 L1011,312 L1004,306 L999,298 L997.8,290 L996,149.4 Q940,147 884.6,152.4Z" fill="none" stroke="#2a2a2a" stroke-width="0.8" /><path d="M873.7,325.7 L1014.7,321.7" fill="none" stroke="#2a2a2a" stroke-width="0.7" /><path d="M872.7,354.6 L1015.7,351.6" fill="none" stroke="#2a2a2a" stroke-width="0.7" /><path d="M866.8,393.4 L1023.7,389.4" fill="none" stroke="#2a2a2a" stroke-width="0.7" /><path d="M854.5,609 L1045.6,603.4" fill="none" stroke="#2a2a2a" stroke-width="0.7" /><path d="M751.4,616 L799.2,634.8 L799.2,653.7 L751.4,637.3Z" fill="#0d5a19" stroke="#042" stroke-width="0.5" /><path d="M1080.7,634.8 L1128.5,616 L1128.5,632.3 L1080.7,653.7Z" fill="#0d5a19" stroke="#042" stroke-width="0.5" /><rect x="730" y="663.7" width="69" height="3.8" fill="#a9a9a9" stroke="#2a2a2a" stroke-width="0.5"/><path d="M739.3,670.4 L798.9,665.7 L798.9,679 L740.8,711.3Z" fill="#a9a9a9" stroke="#2a2a2a" stroke-width="0.7" /><path d="M799.7,565.7 L806.2,565.7 L806.8,677 L810,679.8 L810,689.3 L794.2,694 L742.4,725.4 L740.8,740.3 L733,741.1 L732.2,735.6 L715.7,734.8 L715.7,716 L729.8,716 L740.8,712.8 L799.7,677.5Z" fill="#c98b58" stroke="#2a2a2a" stroke-width="0.8" /><path d="M1074.5,565.7 L1081.2,565.7 L1081.7,679 L1088,683 L1144.5,716 L1165.7,716 L1165.7,735.6 L1148.4,735.6 L1147.6,741.1 L1139.8,741.1 L1136.6,728.5 L1084.8,695.5 L1075.7,691.4 L1058,691.4 L1058,681.3 L1070.7,681.3 L1074.5,677.5Z" fill="#c98b58" stroke="#2a2a2a" stroke-width="0.8" /><rect x="844.5" y="670.1" width="32.5" height="7.4" fill="#6a6a7a" stroke="none" stroke-width="0"/><rect x="1027.5" y="670" width="31.4" height="7.5" fill="#6a6a7a" stroke="none" stroke-width="0"/><rect x="819.4" y="678" width="32.2" height="6.9" fill="#ffd200" stroke="#2a2a2a" stroke-width="0.5"/><rect x="1028.3" y="678" width="33" height="7" fill="#ffd200" stroke="#2a2a2a" stroke-width="0.5"/><rect x="818.6" y="685.3" width="4.7" height="4.7" fill="#c98b58" stroke="#2a2a2a" stroke-width="0.5"/><path d="M832,694 L851.6,694 L851.6,701 L828,701Z" fill="#ffd200" stroke="#2a2a2a" stroke-width="0.5" /><path d="M1030,694 L1054.2,694 L1054.2,700.3 L1030,700.3Z" fill="#ffd200" stroke="#2a2a2a" stroke-width="0.5" /><path d="M806,690.5 L877,690.5" fill="none" stroke="#667" stroke-width="0.5" /><path d="M852,686 L877,686" fill="none" stroke="#667" stroke-width="0.5" /><path d="M852,693 L877,693" fill="none" stroke="#667" stroke-width="0.5" /><rect x="817" y="733.2" width="10.9" height="171.6" fill="#ffd200" stroke="#2a2a2a" stroke-width="0.5"/><rect x="1052.6" y="734" width="9.9" height="170.8" fill="#ffd200" stroke="#2a2a2a" stroke-width="0.5"/><path d="M842.9,701.8 L858.6,701.8 L864.1,850 L863.8,902.8 L827.9,902.8 L828,728.5 L842.9,728.5Z" fill="#c87fb9" stroke="#2a2a2a" stroke-width="0.5" /><path d="M1036,701.8 L1050.3,701.8 L1050.3,728.2 L1052.8,734 L1052.8,902.8 L1038.5,902.8 L1037.7,760Z" fill="#c87fb9" stroke="#2a2a2a" stroke-width="0.5" /><path d="M858.6,706.5 L876.7,705 L879.8,850 L880.6,902.8 L863.8,902.8 L864.1,850Z" fill="#ffd200" stroke="#2a2a2a" stroke-width="0.5" /><path d="M1028.3,694 L1037.7,700 L1037.7,760 L1038.5,899 L1030.8,899 L1029,850Z" fill="#ffd200" stroke="#2a2a2a" stroke-width="0.5" /><rect x="831.1" y="701.8" width="11" height="26.7" fill="#c3c3c3" stroke="#2a2a2a" stroke-width="0.5"/><path d="M803.7,701.5 L830.4,701.5 L830.4,728.5 L792.7,728.5 L791.9,752.9 L778.5,752.9 L778.5,747.4 L747.9,748.2 L747.9,722.2 L767.5,712 L767.5,709.5 L781.7,703.4 L803.7,703.4Z" fill="#0022ff" stroke="#012" stroke-width="0.5" /><path d="M747.9,748.2 L778.5,747.4 L778.5,752.9 L791.9,752.9 L791.9,775.6 L787.2,789.8 L743.2,778.8Z" fill="#c884f0" stroke="#536" stroke-width="0.5" /><path d="M745.5,768.5 L789.5,782.5" fill="none" stroke="#536" stroke-width="0.5" /><path d="M1050.3,701.8 L1077,701.8 L1080,706.5 L1102,719 L1106.8,733.2 L1133.5,734.8 L1133.5,747.4 L1102,747.4 L1101.3,752.9 L1089.5,752.9 L1089.5,730 L1085.6,728.2 L1050.3,728.2Z" fill="#0022ff" stroke="#012" stroke-width="0.5" /><path d="M1089.5,752.9 L1101.3,752.9 L1102,747.4 L1130.4,747.4 L1133.5,750.5 L1136.6,772.5 L1092.7,780.4Z" fill="#c884f0" stroke="#536" stroke-width="0.5" /><path d="M1092.7,781.1 L1136.6,772.5 L1142.9,796.9 L1095.8,800.8Z" fill="#a9b2fa" stroke="#447" stroke-width="0.5" /><path d="M1092.7,780.4 L1135,769.4" fill="none" stroke="#111" stroke-width="1.0" /><path d="M1095.8,789 L1136.6,779.6" fill="none" stroke="#111" stroke-width="1.0" /><path d="M1095.8,849.2 L1142.9,853.1 L1136.6,877.5 L1092.7,868.9Z" fill="#a9b2fa" stroke="#447" stroke-width="0.5" /><path d="M1097,856 L1139,866" fill="none" stroke="#447" stroke-width="0.6" /><path d="M1094,866 L1137,876" fill="none" stroke="#447" stroke-width="0.6" /><rect x="1057.3" y="690.8" width="19.7" height="10.2" fill="#867eaa" stroke="#2a2a2a" stroke-width="0.5"/><rect x="1092.7" y="800.8" width="3.1" height="47.7" fill="#fff" stroke="#000" stroke-width="1.2"/><rect x="1095.8" y="801.6" width="44" height="5.4" fill="#c3c3c3" stroke="#2a2a2a" stroke-width="0.5"/><rect x="1095.8" y="807.8" width="67.2" height="40.2" fill="url(#hg)" stroke="#2a2a2a" stroke-width="0.6"/><path d="M1139.8,807.8 L1144.5,804.7 L1162.6,798.4 L1162.6,851.6 L1144.5,845.3 L1139.8,842.2Z" fill="url(#hg)" stroke="#2a2a2a" stroke-width="0.6" /><rect x="1162.6" y="796.6" width="239.9" height="57" fill="url(#hg)" stroke="#2a2a2a" stroke-width="0.6"/><rect x="1402.5" y="797.8" width="11" height="54.6" fill="url(#hg)" stroke="#2a2a2a" stroke-width="0.6"/><rect x="1413.5" y="799.4" width="36.1" height="51" fill="url(#hg)" stroke="#2a2a2a" stroke-width="0.6"/><rect x="1449.6" y="801" width="78.6" height="45.5" fill="url(#hg)" stroke="#2a2a2a" stroke-width="0.6"/><path d="M1186.1,797 L1186.1,853.4" fill="none" stroke="#2a2a2a" stroke-width="0.5" /><path d="M1188.5,797 L1188.5,853.4" fill="none" stroke="#2a2a2a" stroke-width="0.5" /><path d="M1196.3,797 L1196.3,853.4" fill="none" stroke="#2a2a2a" stroke-width="0.5" /><path d="M1408,797 L1408,853.4" fill="none" stroke="#2a2a2a" stroke-width="0.5" /><rect x="1162.6" y="779.6" width="22.7" height="18.8" fill="#ff0000" stroke="#600" stroke-width="0.5"/><rect x="1165.1" y="784.9" width="6.8" height="9" rx="1.8" fill="#b4b4b4" stroke="#555" stroke-width=".4" transform="rotate(12 1168.5 789)"/><rect x="1176" y="784.9" width="6.8" height="9" rx="1.8" fill="#b4b4b4" stroke="#555" stroke-width=".4" transform="rotate(-12 1179.4 789)"/><circle cx="1173.9" cy="786.7" r="0.9" fill="#111" stroke="none" stroke-width="0"/><rect x="1162.6" y="851.6" width="22.7" height="18.8" fill="#ff0000" stroke="#600" stroke-width="0.5"/><rect x="1165.1" y="856.9" width="6.8" height="9" rx="1.8" fill="#b4b4b4" stroke="#555" stroke-width=".4" transform="rotate(12 1168.5 861)"/><rect x="1176" y="856.9" width="6.8" height="9" rx="1.8" fill="#b4b4b4" stroke="#555" stroke-width=".4" transform="rotate(-12 1179.4 861)"/><circle cx="1173.9" cy="858.7" r="0.9" fill="#111" stroke="none" stroke-width="0"/><rect x="1413.5" y="771.9" width="36.1" height="25.1" fill="#ff0000" stroke="#600" stroke-width="0.5"/><rect x="1417.5" y="778.9" width="10.8" height="12" rx="2.9" fill="#b4b4b4" stroke="#555" stroke-width=".4" transform="rotate(12 1422.9 784.5)"/><rect x="1434.8" y="778.9" width="10.8" height="12" rx="2.9" fill="#b4b4b4" stroke="#555" stroke-width=".4" transform="rotate(-12 1440.2 784.5)"/><circle cx="1431.5" cy="781.4" r="0.9" fill="#111" stroke="none" stroke-width="0"/><rect x="1413.5" y="851.2" width="36.1" height="26.7" fill="#ff0000" stroke="#600" stroke-width="0.5"/><rect x="1417.5" y="858.7" width="10.8" height="12.8" rx="2.9" fill="#b4b4b4" stroke="#555" stroke-width=".4" transform="rotate(12 1422.9 864.5)"/><rect x="1434.8" y="858.7" width="10.8" height="12.8" rx="2.9" fill="#b4b4b4" stroke="#555" stroke-width=".4" transform="rotate(-12 1440.2 864.5)"/><circle cx="1431.5" cy="861.3" r="0.9" fill="#111" stroke="none" stroke-width="0"/><rect x="1185.3" y="779.6" width="3.2" height="17.4" fill="#fff" stroke="#2a2a2a" stroke-width="0.5"/><rect x="1158.6" y="786" width="4" height="9" fill="#fff" stroke="#2a2a2a" stroke-width="0.5"/><rect x="1147.6" y="786.6" width="11" height="7.9" fill="#fff" stroke="#000" stroke-width="1.0"/><rect x="1185.3" y="853" width="3.2" height="17.4" fill="#fff" stroke="#2a2a2a" stroke-width="0.5"/><rect x="1147.6" y="855.5" width="11" height="7.9" fill="#fff" stroke="#000" stroke-width="1.0"/><rect x="1143.7" y="795.3" width="18.1" height="7.7" fill="#867eaa" stroke="#2a2a2a" stroke-width="0.5"/><rect x="1452.8" y="786.8" width="12.5" height="7.9" fill="#fff" stroke="#000" stroke-width="1.0"/><rect x="1452.8" y="855.3" width="12.5" height="7.9" fill="#fff" stroke="#000" stroke-width="1.0"/><rect x="1154.8" y="773.2" width="18" height="3.9" fill="#c3c3c3" stroke="#3a3a3a" stroke-width="0.7"/><rect x="1150.8" y="772.2" width="4" height="6" fill="#c3c3c3" stroke="#3a3a3a" stroke-width="0.7"/><path d="M1172.8,773.2 L1174.9,775.2 L1172.8,777.2Z" fill="#eee" stroke="#3a3a3a" stroke-width="0.6" /><path d="M1170.5,773.2 L1170.5,777.2" fill="none" stroke="#3a3a3a" stroke-width="0.5" /><path d="M1466.1,721.4 L1471.2,721.4 L1476.5,733.6 L1481.8,721.4 L1485.3,721.4 L1490.6,733.6 L1495.9,721.4 L1499.4,721.4 L1504.7,733.6 L1510,721.4 L1513.5,721.4 L1518.8,733.6 L1524.1,721.4 L1527.6,721.4 L1532.9,733.6 L1538.2,721.4 L1541.7,721.4 L1547,733.6 L1552.3,721.4 L1555.6,721.4 L1555.6,745.2 L1541.5,745.2 L1541.5,799.4 L1529.7,799.4 L1529.7,780.5 L1528.2,780.5 L1467.7,777.5 L1466.1,777.5Z" fill="#a05a22" stroke="none" stroke-width="0" /><path d="M1466.1,928.8 L1471.2,928.8 L1476.5,916.6 L1481.8,928.8 L1485.3,928.8 L1490.6,916.6 L1495.9,928.8 L1499.4,928.8 L1504.7,916.6 L1510,928.8 L1513.5,928.8 L1518.8,916.6 L1524.1,928.8 L1527.6,928.8 L1532.9,916.6 L1538.2,928.8 L1541.7,928.8 L1547,916.6 L1552.3,928.8 L1555.6,928.8 L1555.6,905 L1541.5,905 L1541.5,850.8 L1529.7,850.8 L1529.7,869.7 L1528.2,869.7 L1467.7,872.7 L1466.1,872.7Z" fill="#a05a22" stroke="none" stroke-width="0" /><rect x="1541.5" y="745.2" width="13.5" height="159.6" fill="#c1e9f1" stroke="#789" stroke-width="0.5"/><rect x="1532.9" y="799.4" width="8.6" height="51.4" fill="#c1e9f1" stroke="none" stroke-width="0"/><path d="M1541.5,745.2 L1541.5,904.8" fill="none" stroke="#89a" stroke-width="0.5" /><path d="M1467.7,777.5 L1528.2,780.5 L1528.2,800.6 L1467.7,800.6Z" fill="#80e8d6" stroke="none" stroke-width="0" /><path d="M1467.7,849.6 L1528.2,849.6 L1528.2,869.7 L1467.7,872.7Z" fill="#80e8d6" stroke="none" stroke-width="0" /><rect x="1449.6" y="846.5" width="78.6" height="3.1" fill="#c1e9f1" stroke="none" stroke-width="0"/><rect x="1471.6" y="801" width="50.3" height="7" fill="#c3c3c3" stroke="#2a2a2a" stroke-width="0.5"/><rect x="1527.4" y="801" width="5.5" height="47" fill="#867eaa" stroke="#2a2a2a" stroke-width="0.5"/><rect x="1505.8" y="787.5" width="36.8" height="7.2" fill="#c3c3c3" stroke="#3a3a3a" stroke-width="0.7"/><rect x="1542.6" y="784.4" width="6" height="13.5" fill="#c3c3c3" stroke="#3a3a3a" stroke-width="0.7"/><path d="M1505.8,787.5 L1501.8,791.1 L1505.8,794.7Z" fill="#eee" stroke="#3a3a3a" stroke-width="0.6" /><path d="M1510.1,787.5 L1510.1,794.7" fill="none" stroke="#3a3a3a" stroke-width="0.5" /><rect x="1496.4" y="822.1" width="36.7" height="7.2" fill="#c3c3c3" stroke="#3a3a3a" stroke-width="0.7"/><rect x="1533.1" y="819" width="6" height="13.5" fill="#c3c3c3" stroke="#3a3a3a" stroke-width="0.7"/><path d="M1496.4,822.1 L1492.4,825.7 L1496.4,829.3Z" fill="#eee" stroke="#3a3a3a" stroke-width="0.6" /><path d="M1500.7,822.1 L1500.7,829.3" fill="none" stroke="#3a3a3a" stroke-width="0.5" /><rect x="1505.8" y="855.9" width="36.8" height="7.2" fill="#c3c3c3" stroke="#3a3a3a" stroke-width="0.7"/><rect x="1542.6" y="852.8" width="6" height="13.5" fill="#c3c3c3" stroke="#3a3a3a" stroke-width="0.7"/><path d="M1505.8,855.9 L1501.8,859.5 L1505.8,863.1Z" fill="#eee" stroke="#3a3a3a" stroke-width="0.6" /><path d="M1510.1,855.9 L1510.1,863.1" fill="none" stroke="#3a3a3a" stroke-width="0.5" /><rect x="1349.1" y="733.4" width="33.8" height="7" fill="#c3c3c3" stroke="#3a3a3a" stroke-width="0.7"/><rect x="1382.9" y="729.9" width="5.5" height="14" fill="#c3c3c3" stroke="#3a3a3a" stroke-width="0.7"/><path d="M1349.1,733.4 L1345.2,736.9 L1349.1,740.4Z" fill="#eee" stroke="#3a3a3a" stroke-width="0.6" /><path d="M1353.3,733.4 L1353.3,740.4" fill="none" stroke="#3a3a3a" stroke-width="0.5" /><rect x="1348" y="910.3" width="34.9" height="7" fill="#c3c3c3" stroke="#3a3a3a" stroke-width="0.7"/><rect x="1382.9" y="906.8" width="5.5" height="14" fill="#c3c3c3" stroke="#3a3a3a" stroke-width="0.7"/><path d="M1348,910.3 L1344.2,913.8 L1348,917.3Z" fill="#eee" stroke="#3a3a3a" stroke-width="0.6" /><path d="M1352.2,910.3 L1352.2,917.3" fill="none" stroke="#3a3a3a" stroke-width="0.5" /><rect x="1440" y="763.8" width="21" height="4.5" fill="#c3c3c3" stroke="#3a3a3a" stroke-width="0.7"/><rect x="1461" y="762" width="4" height="8" fill="#c3c3c3" stroke="#3a3a3a" stroke-width="0.7"/><path d="M1440,763.8 L1437.5,766 L1440,768.2Z" fill="#eee" stroke="#3a3a3a" stroke-width="0.6" /><path d="M1442.7,763.8 L1442.7,768.2" fill="none" stroke="#3a3a3a" stroke-width="0.5" /><rect x="1399.4" y="863.2" width="7" height="38.8" fill="#c3c3c3" stroke="#3a3a3a" stroke-width="0.7"/><rect x="1394.4" y="902" width="17" height="6" fill="#c3c3c3" stroke="#3a3a3a" stroke-width="0.7"/><path d="M1398.7,902 L1398.7,908" fill="none" stroke="#3a3a3a" stroke-width="0.5" /><path d="M1407.2,902 L1407.2,908" fill="none" stroke="#3a3a3a" stroke-width="0.5" /><rect x="1459.8" y="881" width="6.2" height="12" fill="#c3c3c3" stroke="#3a3a3a" stroke-width="0.6"/><rect x="1353.8" y="708.3" width="44" height="13.3" fill="#ffe469" stroke="#764" stroke-width="0.6"/><rect x="1397.8" y="705.1" width="11" height="20.4" fill="#ffe469" stroke="#764" stroke-width="0.6"/><path d="M1408.8,709 L1421,709 A6.3,6.3 0 0 1 1421,721.6 L1408.8,721.6Z" fill="#ffe469" stroke="#764" stroke-width="0.6" /><circle cx="1420.8" cy="715.3" r="4.6" fill="#ffe469" stroke="#222" stroke-width="0.9"/><path d="M1368,708.3 L1368,721.6" fill="none" stroke="#764" stroke-width="0.5" /><path d="M782.6,935.5 L819.8,935.5 L819.8,918 L843.7,918 L843.7,1165.4 L1036.5,1165.4 L1036.5,918 L1061.6,918 L1061.6,935.5 L1099.3,935.5 L1099.3,958.1 L1065.4,958.1 L1064.1,1114 L1073.2,1138.6 L1073.2,1222.4 L807.6,1222.4 L807.6,1138.6 L817.8,1114 L815.3,958.1 L782.6,958.1Z" fill="#867eaa" stroke="#2a2a2a" stroke-width="0.8" /><path d="M807.6,1174.7 L838,1174.7" fill="none" stroke="#2a2a2a" stroke-width="0.6" /><path d="M1043,1174.7 L1073.2,1174.7" fill="none" stroke="#2a2a2a" stroke-width="0.6" /><rect x="1044" y="1022.2" width="20.1" height="23.9" fill="#c8ecf2" stroke="#2a2a2a" stroke-width="0.6"/><rect x="870.5" y="1165.4" width="140.7" height="5.1" fill="#c8ecf2" stroke="#2a2a2a" stroke-width="0.5"/><rect x="873.8" y="1170.5" width="26.8" height="14.5" fill="#c8ecf2" stroke="#2a2a2a" stroke-width="0.5"/><path d="M807.6,1184.7 L900.6,1184.7 L910.7,1198.1 L900.6,1211.5 L807.6,1211.5Z" fill="#c8ecf2" stroke="#2a2a2a" stroke-width="0.5" /><path d="M876,1185 L887,1195 L900.6,1185 L900.6,1211.5" fill="none" stroke="#2a2a2a" stroke-width="0.5" /><rect x="1002.5" y="1170.5" width="4.5" height="41.9" fill="#c8ecf2" stroke="#2a2a2a" stroke-width="0.5"/><rect x="1001" y="1212.4" width="7" height="10" fill="#c8ecf2" stroke="#2a2a2a" stroke-width="0.5"/><rect x="999.5" y="1222.4" width="10" height="9.2" fill="#c3c3c3" stroke="#3a3a3a" stroke-width="0.6"/><rect x="837.8" y="1033.5" width="5.9" height="139.5" fill="#ffd200" stroke="#2a2a2a" stroke-width="0.5"/><rect x="1036.3" y="1033.5" width="6.9" height="139.5" fill="#ffd200" stroke="#2a2a2a" stroke-width="0.5"/><path d="M884.4,973.2 L935.9,972.2 L935.9,981 L981.2,980 L981.2,971 L1032,969.4 L1030,979.5 Q960,992 886,982.5Z" fill="#ffd200" stroke="#2a2a2a" stroke-width="0.5" /><path d="M878.1,983 Q950,994 1022.6,981 L1022.6,1003.4 L968.6,1003.4 L968.6,990 L932.2,990 L932.2,1003.4 L878.1,1003.4Z" fill="#867eaa" stroke="#2a2a2a" stroke-width="0.5" /><path d="M878.1,993.5 L932.2,993.5" fill="none" stroke="#dde" stroke-width="0.8" /><path d="M968.6,993.5 L1022.6,993.5" fill="none" stroke="#dde" stroke-width="0.8" /><rect x="931" y="978.5" width="54" height="3.5" fill="#fff" stroke="#222" stroke-width="0.7"/><path d="M843.7,1006 L848,1001 L860.5,1013.4 L867.6,1016 L913.8,1016 L913.8,1032.3 L917.8,1033.5 L917.8,1051.1 Q895,1052 884,1085 L876.9,1105.1 L876.9,1116.5 L843.7,1116.5Z" fill="#c87fb9" stroke="#2a2a2a" stroke-width="0.5" /><path d="M1036.5,1006 L1032.7,1001 L1021.4,1013.4 L1012.6,1016 L967.3,1016 L967.3,1032.3 L962.3,1033.5 L962.3,1051.1 Q980,1053 990,1072 L1003.8,1105.1 L1005,1116.5 L1036.5,1116.5Z" fill="#c87fb9" stroke="#2a2a2a" stroke-width="0.5" /><rect x="986" y="1059.9" width="44.2" height="26.4" fill="#c1e9f1" stroke="none" stroke-width="0"/><path d="M987.4,1059.9 L1030.2,1059.9" fill="none" stroke="#2a2a2a" stroke-width="0.5" /><path d="M996.2,1086.3 L1030.2,1086.3" fill="none" stroke="#2a2a2a" stroke-width="0.5" /><rect x="1030.2" y="1016" width="6.3" height="100.5" fill="#c1e9f1" stroke="#667" stroke-width="0.4"/><path d="M867.6,1003.4 L924.6,1003.4 L924.6,1024.7 L913.8,1024.7 L913.8,1016 L867.6,1016Z" fill="#ffd200" stroke="#2a2a2a" stroke-width="0.5" /><path d="M956,1003.4 L1012.6,1003.4 L1012.6,1016 L967.3,1016 L967.3,1024.7 L956,1024.7Z" fill="#ffd200" stroke="#2a2a2a" stroke-width="0.5" /><rect x="913.8" y="1024.7" width="53.5" height="7.6" fill="#c1e9f1" stroke="#2a2a2a" stroke-width="0.5"/><path d="M876.9,1102.5 L1003.8,1102.5" fill="none" stroke="#2a2a2a" stroke-width="0.5" /><path d="M843.7,1116.5 L876.9,1116.5 L876.9,1105.1 L1003.8,1105.1 L1005,1116.5 L1036.5,1116.5 L1036.5,1145 L1012,1145 L1012,1151.6 L869.3,1151.6 L869.3,1145 L843.7,1145Z" fill="#ff0000" stroke="none" stroke-width="0" /><rect x="843.7" y="1123.6" width="10.9" height="21.7" fill="#000" stroke="none" stroke-width="0"/><rect x="1025.5" y="1123.6" width="10.8" height="21.7" fill="#000" stroke="none" stroke-width="0"/><rect x="843.7" y="1145" width="25.6" height="6.6" fill="#867eaa" stroke="#2a2a2a" stroke-width="0.4"/><rect x="1012" y="1145" width="24.3" height="6.6" fill="#867eaa" stroke="#2a2a2a" stroke-width="0.4"/><rect x="859.7" y="1126" width="3.6" height="19.5" fill="#c3c3c3" stroke="#3a3a3a" stroke-width="0.7"/><rect x="857" y="1145.5" width="9" height="5" fill="#c3c3c3" stroke="#3a3a3a" stroke-width="0.7"/><path d="M859.2,1145.5 L859.2,1150.5" fill="none" stroke="#3a3a3a" stroke-width="0.5" /><path d="M863.8,1145.5 L863.8,1150.5" fill="none" stroke="#3a3a3a" stroke-width="0.5" /><rect x="1017.2" y="1126" width="3.6" height="19.5" fill="#c3c3c3" stroke="#3a3a3a" stroke-width="0.7"/><rect x="1014.5" y="1145.5" width="9" height="5" fill="#c3c3c3" stroke="#3a3a3a" stroke-width="0.7"/><path d="M1016.8,1145.5 L1016.8,1150.5" fill="none" stroke="#3a3a3a" stroke-width="0.5" /><path d="M1021.2,1145.5 L1021.2,1150.5" fill="none" stroke="#3a3a3a" stroke-width="0.5" /><path d="M843.7,1165.4 L1036.5,1165.4" fill="none" stroke="#2a2a2a" stroke-width="0.5" /><rect x="1001.5" y="952" width="12" height="19.9" fill="#c3c3c3" stroke="#3a3a3a" stroke-width="0.7"/><rect x="1001.5" y="971.9" width="12" height="0.1" fill="#c3c3c3" stroke="#3a3a3a" stroke-width="0.7"/><path d="M1004.5,971.9 L1004.5,972" fill="none" stroke="#3a3a3a" stroke-width="0.5" /><path d="M1010.5,971.9 L1010.5,972" fill="none" stroke="#3a3a3a" stroke-width="0.5" /><path d="M1001.5,952 L1007.5,946.5 L1013.5,952Z" fill="#c3c3c3" stroke="#3a3a3a" stroke-width="0.6" /><rect x="988" y="1012" width="12" height="22" fill="#c3c3c3" stroke="#3a3a3a" stroke-width="0.7"/><path d="M988,1034 L994,1039 L1000,1034Z" fill="#c3c3c3" stroke="#3a3a3a" stroke-width="0.6" /><rect x="986.5" y="1009.5" width="15" height="2.5" fill="#fff" stroke="#3a3a3a" stroke-width="0.5"/><rect x="793.1" y="909" width="11.8" height="50.4" fill="#c3c3c3" stroke="#3a3a3a" stroke-width="0.7"/><rect x="788" y="959.4" width="22" height="7.6" fill="#c3c3c3" stroke="#3a3a3a" stroke-width="0.7"/><path d="M793.5,959.4 L793.5,967" fill="none" stroke="#3a3a3a" stroke-width="0.5" /><path d="M804.5,959.4 L804.5,967" fill="none" stroke="#3a3a3a" stroke-width="0.5" /><path d="M793.1,909 L799,904 L804.9,909Z" fill="#c3c3c3" stroke="#3a3a3a" stroke-width="0.5" /><rect x="1076.9" y="909" width="11.8" height="50.4" fill="#c3c3c3" stroke="#3a3a3a" stroke-width="0.7"/><rect x="1071.8" y="959.4" width="22" height="7.6" fill="#c3c3c3" stroke="#3a3a3a" stroke-width="0.7"/><path d="M1077.3,959.4 L1077.3,967" fill="none" stroke="#3a3a3a" stroke-width="0.5" /><path d="M1088.3,959.4 L1088.3,967" fill="none" stroke="#3a3a3a" stroke-width="0.5" /><path d="M1076.9,909 L1082.8,904 L1088.7,909Z" fill="#c3c3c3" stroke="#3a3a3a" stroke-width="0.5" /><rect x="1048" y="1146" width="12.6" height="76.3" fill="#c3c3c3" stroke="#3a3a3a" stroke-width="0.7"/><rect x="1043" y="1222.3" width="22.6" height="11" fill="#c3c3c3" stroke="#3a3a3a" stroke-width="0.7"/><path d="M1048.6,1222.3 L1048.6,1233.3" fill="none" stroke="#3a3a3a" stroke-width="0.5" /><path d="M1060,1222.3 L1060,1233.3" fill="none" stroke="#3a3a3a" stroke-width="0.5" /><path d="M1048,1146 L1054.3,1141 L1060.6,1146Z" fill="#c3c3c3" stroke="#3a3a3a" stroke-width="0.5" /><path d="M782.6,935.5 L819.8,935.5" fill="none" stroke="#2a2a2a" stroke-width="0.7" /><path d="M1061.6,935.5 L1099.3,935.5" fill="none" stroke="#2a2a2a" stroke-width="0.7" /><path d="M1123.6,902.8 L1163.7,902.8 L1164.4,940.5 Q1165,950 1170,950.5 L1182.5,951.5 L1182.5,999.4 L1162.1,999.4 Q1148,997 1141.7,992.3 Q1131,985 1127.5,976.6 Q1123.6,968 1123.6,959.4Z" fill="#ffe469" stroke="#653" stroke-width="0.6" /><path d="M1124.4,911.5 L1163.4,911.5" fill="none" stroke="#222" stroke-width="1.0" /><path d="M1123.6,924.8 L1164,924.8" fill="none" stroke="#653" stroke-width="0.5" /><path d="M1180.5,951.5 L1180.5,999.4" fill="none" stroke="#653" stroke-width="0.5" /><rect x="1153.8" y="873" width="19.2" height="3.9" fill="#c3c3c3" stroke="#3a3a3a" stroke-width="0.7"/><rect x="1150.3" y="871.8" width="3.5" height="6.5" fill="#c3c3c3" stroke="#3a3a3a" stroke-width="0.7"/><path d="M1173,873 L1175.1,875 L1173,877Z" fill="#eee" stroke="#3a3a3a" stroke-width="0.6" /><path d="M1170.7,873 L1170.7,877" fill="none" stroke="#3a3a3a" stroke-width="0.5" /><rect x="545.9" y="457.6" width="19" height="47.8" fill="#c3c3c3" stroke="#3a3a3a" stroke-width="0.7"/><rect x="538.4" y="446.3" width="34" height="11.3" fill="#c3c3c3" stroke="#3a3a3a" stroke-width="0.7"/><path d="M546.9,446.3 L546.9,457.6" fill="none" stroke="#3a3a3a" stroke-width="0.5" /><path d="M563.9,446.3 L563.9,457.6" fill="none" stroke="#3a3a3a" stroke-width="0.5" /><rect x="1314.5" y="467.7" width="21.3" height="81.7" fill="#c3c3c3" stroke="#000" stroke-width="1.3"/><rect x="1308" y="448.8" width="35.4" height="18.9" fill="#c3c3c3" stroke="#3a3a3a" stroke-width="0.7"/><rect x="1315.7" y="442.6" width="18.9" height="6.2" fill="#c3c3c3" stroke="#3a3a3a" stroke-width="0.7"/><path d="M1317,448.8 L1317,467.7" fill="none" stroke="#3a3a3a" stroke-width="0.5" /><path d="M1334,448.8 L1334,467.7" fill="none" stroke="#3a3a3a" stroke-width="0.5" /><rect x="1310.7" y="549.4" width="28.9" height="11.3" fill="#c3c3c3" stroke="#3a3a3a" stroke-width="0.7"/><path d="M1325,549.4 L1325,560.7" fill="none" stroke="#3a3a3a" stroke-width="0.5" /><rect x="1241.6" y="395" width="13.8" height="161" fill="#c3c3c3" stroke="#3a3a3a" stroke-width="0.7"/><rect x="1238" y="372" width="21" height="23" fill="#c3c3c3" stroke="#3a3a3a" stroke-width="0.7"/><rect x="1244" y="373" width="9" height="7" fill="#c3c3c3" stroke="#3a3a3a" stroke-width="0.5"/><rect x="1236.6" y="555.7" width="25.1" height="15" fill="#c3c3c3" stroke="#3a3a3a" stroke-width="0.7"/><path d="M1245,555.7 L1245,570.7" fill="none" stroke="#3a3a3a" stroke-width="0.5" /><path d="M1253.5,555.7 L1253.5,570.7" fill="none" stroke="#3a3a3a" stroke-width="0.5" /><rect x="1229.5" y="395.4" width="9.5" height="29.9" fill="#c3c3c3" stroke="#3a3a3a" stroke-width="0.6"/><path d="M1229.5,398.7 L1239,398.7" fill="none" stroke="#3a3a3a" stroke-width="0.4" /><path d="M1229.5,402 L1239,402" fill="none" stroke="#3a3a3a" stroke-width="0.4" /><path d="M1229.5,405.3 L1239,405.3" fill="none" stroke="#3a3a3a" stroke-width="0.4" /><path d="M1229.5,408.6 L1239,408.6" fill="none" stroke="#3a3a3a" stroke-width="0.4" /><path d="M1229.5,411.9 L1239,411.9" fill="none" stroke="#3a3a3a" stroke-width="0.4" /><path d="M1229.5,415.2 L1239,415.2" fill="none" stroke="#3a3a3a" stroke-width="0.4" /><path d="M1229.5,418.5 L1239,418.5" fill="none" stroke="#3a3a3a" stroke-width="0.4" /><path d="M1229.5,421.8 L1239,421.8" fill="none" stroke="#3a3a3a" stroke-width="0.4" /><rect x="1258" y="395.4" width="9.5" height="29.9" fill="#c3c3c3" stroke="#3a3a3a" stroke-width="0.6"/><path d="M1258,398.7 L1267.5,398.7" fill="none" stroke="#3a3a3a" stroke-width="0.4" /><path d="M1258,402 L1267.5,402" fill="none" stroke="#3a3a3a" stroke-width="0.4" /><path d="M1258,405.3 L1267.5,405.3" fill="none" stroke="#3a3a3a" stroke-width="0.4" /><path d="M1258,408.6 L1267.5,408.6" fill="none" stroke="#3a3a3a" stroke-width="0.4" /><path d="M1258,411.9 L1267.5,411.9" fill="none" stroke="#3a3a3a" stroke-width="0.4" /><path d="M1258,415.2 L1267.5,415.2" fill="none" stroke="#3a3a3a" stroke-width="0.4" /><path d="M1258,418.5 L1267.5,418.5" fill="none" stroke="#3a3a3a" stroke-width="0.4" /><path d="M1258,421.8 L1267.5,421.8" fill="none" stroke="#3a3a3a" stroke-width="0.4" /><rect x="627" y="509" width="10" height="46.7" fill="#c3c3c3" stroke="#3a3a3a" stroke-width="0.7"/><rect x="622.7" y="555.7" width="18.6" height="7.5" fill="#c3c3c3" stroke="#3a3a3a" stroke-width="0.7"/><path d="M627.4,555.7 L627.4,563.2" fill="none" stroke="#3a3a3a" stroke-width="0.5" /><path d="M636.6,555.7 L636.6,563.2" fill="none" stroke="#3a3a3a" stroke-width="0.5" /><path d="M627,513 L632,508 L637,513Z" fill="#c3c3c3" stroke="#3a3a3a" stroke-width="0.5" /><rect x="734.1" y="622.3" width="7" height="39.9" fill="#c3c3c3" stroke="#3a3a3a" stroke-width="0.7"/><rect x="731.1" y="662.2" width="13" height="4" fill="#c3c3c3" stroke="#3a3a3a" stroke-width="0.7"/><path d="M734.4,662.2 L734.4,666.2" fill="none" stroke="#3a3a3a" stroke-width="0.5" /><path d="M740.9,662.2 L740.9,666.2" fill="none" stroke="#3a3a3a" stroke-width="0.5" /><path d="M734.1,624 L737.6,620 L741.1,624Z" fill="#c3c3c3" stroke="#3a3a3a" stroke-width="0.5" /><rect x="748.8" y="649" width="3.5" height="17.5" fill="#c3c3c3" stroke="#3a3a3a" stroke-width="0.7"/><rect x="747" y="666.5" width="7" height="3" fill="#c3c3c3" stroke="#3a3a3a" stroke-width="0.7"/><path d="M748.8,666.5 L748.8,669.5" fill="none" stroke="#3a3a3a" stroke-width="0.5" /><path d="M752.2,666.5 L752.2,669.5" fill="none" stroke="#3a3a3a" stroke-width="0.5" /><path d="M742,661.5 L799,659.5" fill="none" stroke="#2a2a2a" stroke-width="0.6" /><rect x="1159.5" y="616" width="7" height="37.4" fill="#c3c3c3" stroke="#3a3a3a" stroke-width="0.7"/><rect x="1155.5" y="653.4" width="15" height="4" fill="#c3c3c3" stroke="#3a3a3a" stroke-width="0.7"/><path d="M1159.2,653.4 L1159.2,657.4" fill="none" stroke="#3a3a3a" stroke-width="0.5" /><path d="M1166.8,653.4 L1166.8,657.4" fill="none" stroke="#3a3a3a" stroke-width="0.5" /><path d="M1159.5,616 L1163,611 L1166.5,616Z" fill="#c3c3c3" stroke="#3a3a3a" stroke-width="0.5" /><rect x="721.2" y="716" width="7.1" height="45.5" fill="#c3c3c3" stroke="#3a3a3a" stroke-width="0.7"/><rect x="717.7" y="708" width="14" height="8" fill="#c3c3c3" stroke="#3a3a3a" stroke-width="0.7"/><path d="M721.2,708 L721.2,716" fill="none" stroke="#3a3a3a" stroke-width="0.5" /><path d="M728.2,708 L728.2,716" fill="none" stroke="#3a3a3a" stroke-width="0.5" /><path d="M721.2,759 L724.7,763.5 L728.2,759Z" fill="#c3c3c3" stroke="#3a3a3a" stroke-width="0.5" /><rect x="757.2" y="728.5" width="6.3" height="40.9" fill="#c3c3c3" stroke="#3a3a3a" stroke-width="0.7"/><rect x="754.9" y="722.2" width="11" height="6.3" fill="#c3c3c3" stroke="#3a3a3a" stroke-width="0.7"/><path d="M757.6,722.2 L757.6,728.5" fill="none" stroke="#3a3a3a" stroke-width="0.5" /><path d="M763.1,722.2 L763.1,728.5" fill="none" stroke="#3a3a3a" stroke-width="0.5" /><rect x="802.9" y="728.6" width="6.3" height="26.6" fill="#c3c3c3" stroke="#3a3a3a" stroke-width="0.7"/><rect x="802.9" y="728.5" width="6.3" height="0.1" fill="#c3c3c3" stroke="#3a3a3a" stroke-width="0.7"/><path d="M804.4,728.5 L804.4,728.6" fill="none" stroke="#3a3a3a" stroke-width="0.5" /><path d="M807.6,728.5 L807.6,728.6" fill="none" stroke="#3a3a3a" stroke-width="0.5" /><rect x="1070.3" y="728.6" width="6.3" height="26.4" fill="#c3c3c3" stroke="#3a3a3a" stroke-width="0.7"/><rect x="1070.3" y="728.5" width="6.3" height="0.1" fill="#c3c3c3" stroke="#3a3a3a" stroke-width="0.7"/><path d="M1071.9,728.5 L1071.9,728.6" fill="none" stroke="#3a3a3a" stroke-width="0.5" /><path d="M1075.1,728.5 L1075.1,728.6" fill="none" stroke="#3a3a3a" stroke-width="0.5" /><rect x="1063.8" y="676.6" width="5" height="24.4" fill="#c3c3c3" stroke="#3a3a3a" stroke-width="0.7"/><rect x="1062.8" y="673.6" width="7" height="3" fill="#c3c3c3" stroke="#3a3a3a" stroke-width="0.7"/><path d="M1064.5,673.6 L1064.5,676.6" fill="none" stroke="#3a3a3a" stroke-width="0.5" /><path d="M1068,673.6 L1068,676.6" fill="none" stroke="#3a3a3a" stroke-width="0.5" /><rect x="1040.2" y="694" width="5.5" height="22" fill="#c3c3c3" stroke="#3a3a3a" stroke-width="0.7"/><rect x="1038" y="690" width="10" height="4" fill="#c3c3c3" stroke="#3a3a3a" stroke-width="0.7"/><path d="M1040.5,690 L1040.5,694" fill="none" stroke="#3a3a3a" stroke-width="0.5" /><path d="M1045.5,690 L1045.5,694" fill="none" stroke="#3a3a3a" stroke-width="0.5" /><rect x="1116.8" y="733.5" width="6.5" height="34.5" fill="#c3c3c3" stroke="#3a3a3a" stroke-width="0.7"/><rect x="1114.5" y="726.5" width="11" height="7" fill="#c3c3c3" stroke="#3a3a3a" stroke-width="0.7"/><path d="M1117.2,726.5 L1117.2,733.5" fill="none" stroke="#3a3a3a" stroke-width="0.5" /><path d="M1122.8,726.5 L1122.8,733.5" fill="none" stroke="#3a3a3a" stroke-width="0.5" /><rect x="604" y="280.3" width="13" height="11.3" fill="#c3c3c3" stroke="#3a3a3a" stroke-width="0.7"/><rect x="607.5" y="291.6" width="6" height="17.4" fill="#c3c3c3" stroke="#3a3a3a" stroke-width="0.6"/><path d="M604,286 L617,286" fill="none" stroke="#3a3a3a" stroke-width="0.5" /><rect x="1264" y="280.3" width="13" height="11.3" fill="#c3c3c3" stroke="#3a3a3a" stroke-width="0.7"/><rect x="1267.8" y="291.6" width="6" height="22.4" fill="#c3c3c3" stroke="#3a3a3a" stroke-width="0.6"/><path d="M1264,286 L1277,286" fill="none" stroke="#3a3a3a" stroke-width="0.5" /><path d="M605.8,310.8 L615.8,310.8 L615.8,320 Q616,323.5 620,323.7 L624.7,323.7 L624.7,331.7 L614,331.7 Q606,331 605.8,323Z" fill="#ffe469" stroke="#764" stroke-width="0.6" /><rect x="624.7" y="314.5" width="8.3" height="27.5" fill="#ffe469" stroke="#764" stroke-width="0.5"/><rect x="633" y="310.8" width="11.7" height="33.8" fill="#ffe469" stroke="#764" stroke-width="0.5"/><g font-family="&quot;Liberation Serif&quot;, &quot;Noto Serif CJK SC&quot;, serif" font-size="38" fill="#111"><path d="M70.6,112.1 L188.2,112.1 L628,350" fill="none" stroke="#1a1a1a" stroke-width="0.9" /><text x="72 111.5 150.9" y="98.8">上架体</text><path d="M70.6,225.2 L186,225.2 L697,436" fill="none" stroke="#1a1a1a" stroke-width="0.9" /><text x="72 111.5 150.9" y="211.9">轧臼壁</text><path d="M70.6,337 L187,337 L776,481" fill="none" stroke="#1a1a1a" stroke-width="0.9" /><text x="72 111.5 150.9" y="323.7">破碎壁</text><path d="M70.6,445.4 L185.2,445.4 L796,516" fill="none" stroke="#1a1a1a" stroke-width="0.9" /><text x="72 111.5 150.9" y="432.1">动锥体</text><path d="M70.6,554.7 L145.5,554.7 L877,596.5" fill="none" stroke="#1a1a1a" stroke-width="0.9" /><text x="72 111.5" y="541.4">主轴</text><path d="M70.6,664 L263,664 L763,631" fill="none" stroke="#1a1a1a" stroke-width="0.9" /><text x="72 111.5 150.9 190.4 229.8" y="650.7">防尘密封圈</text><path d="M70.6,775.4 L189.4,775.4 L846,848" fill="none" stroke="#1a1a1a" stroke-width="0.9" /><text x="72 111.5 150.9" y="762.1">偏心套</text><path d="M70.6,886.7 L189.4,886.7 L356.6,844.5" fill="none" stroke="#1a1a1a" stroke-width="0.9" /><text x="72 111.5 150.9" y="873.4">下架体</text><path d="M70.6,998.3 L231,998.3 L950.7,993" fill="none" stroke="#1a1a1a" stroke-width="0.9" /><text x="72 111.5 150.9 190.4" y="985">止推轴承</text><path d="M70.6,1105.1 L188.2,1105.1 L934.2,1158.9" fill="none" stroke="#1a1a1a" stroke-width="0.9" /><text x="72 111.5 150.9" y="1091.8">液压缸</text><path d="M1846.2,114.4 L1647.7,114.4 L1044.5,60.8" fill="none" stroke="#1a1a1a" stroke-width="0.9" /><text x="1643.8 1683.9 1724 1764.1 1804.2" y="106.6">顶部轴承盖</text><path d="M1846.2,223.5 L1686.6,223.5 L1009.6,152.4" fill="none" stroke="#1a1a1a" stroke-width="0.9" /><text x="1683.9 1724 1764.1 1804.2" y="215.7">顶部轴承</text><path d="M1846.2,335.3 L1566,335.3 L1033,321.5" fill="none" stroke="#1a1a1a" stroke-width="0.9" /><text x="1563.6 1603.7 1643.8 1683.9 1724 1764.1 1804.2" y="327.5">破碎壁锁紧螺母</text><path d="M1846.2,445.4 L1566,445.4 L1247,503" fill="none" stroke="#1a1a1a" stroke-width="0.9" /><text x="1563.6 1603.7 1643.8 1683.9 1724 1764.1 1804.2" y="437.6">轧臼壁锁紧螺栓</text><path d="M1846.2,559.2 L1728,559.2 L1108.4,761" fill="none" stroke="#1a1a1a" stroke-width="0.9" /><text x="1724 1764.1 1804.2" y="551.4">大齿轮</text><path d="M1846.2,676.1 L1727.3,676.1 L1127,790" fill="none" stroke="#1a1a1a" stroke-width="0.9" /><text x="1724 1764.1 1804.2" y="668.3">小齿轮</text><path d="M1846.2,786.3 L1643.9,786.3 L1392.6,755.3" fill="none" stroke="#1a1a1a" stroke-width="0.9" /><text x="1643.8 1683.9 1724 1764.1 1804.2" y="778.5">水平轴架体</text><path d="M1846.2,898.6 L1726.8,898.6 L1489.3,835.8" fill="none" stroke="#1a1a1a" stroke-width="0.9" /><text x="1724 1764.1 1804.2" y="890.8">水平轴</text><path d="M1846.2,1012 L1726.1,1012 L1522.6,903.8" fill="none" stroke="#1a1a1a" stroke-width="0.9" /><text x="1724 1764.1 1804.2" y="1004.2">皮带轮</text><path d="M1846.2,1126.5 L1609.3,1126.5 L1167.1,977.3" fill="none" stroke="#1a1a1a" stroke-width="0.9" /><text x="1603.7 1643.8 1683.9 1724 1764.1 1804.2" y="1118.7">润滑油回油管</text></g></svg></body></html>
